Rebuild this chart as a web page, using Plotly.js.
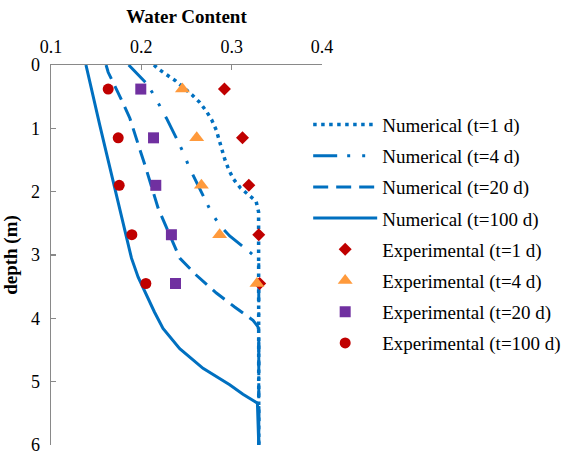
<!DOCTYPE html>
<html>
<head>
<meta charset="utf-8">
<script src="https://cdn.plot.ly/plotly-3.0.1.min.js"></script>
<style>html,body{margin:0;padding:0;background:#fff}#chart{width:564px;height:455px}</style>
</head>
<body>
<div id="chart"></div>
<script>
// Numerical curves: water content (x) vs depth (m)
const numT1X = [0.214, 0.2186, 0.2285, 0.238, 0.256, 0.2646, 0.272, 0.278, 0.283, 0.286, 0.289, 0.2926, 0.297, 0.302, 0.3096, 0.3184, 0.327, 0.3298, 0.330, 0.330];
const numT1D = [0, 0.06, 0.158, 0.25, 0.47, 0.59, 0.73, 0.87, 1.03, 1.18, 1.34, 1.5, 1.66, 1.8, 1.94, 2.05, 2.15, 2.32, 4.0, 6.0];

const numT4X = [0.186, 0.2057, 0.2138, 0.2215, 0.2278, 0.2407, 0.247, 0.2528, 0.259, 0.2713, 0.278, 0.2867, 0.2978, 0.3188, 0.330, 0.330];
const numT4D = [0, 0.29, 0.47, 0.67, 0.84, 1.21, 1.4, 1.61, 1.79, 2.17, 2.34, 2.53, 2.7, 2.94, 3.08, 6.0];

const numT20X = [0.161, 0.1633, 0.178, 0.1873, 0.198, 0.204, 0.2186, 0.2334, 0.2425, 0.261, 0.2831, 0.3033, 0.3236, 0.329, 0.330, 0.330];
const numT20D = [0, 0.115, 0.55, 0.84, 1.32, 1.58, 2.26, 2.76, 3.05, 3.32, 3.6, 3.82, 4.03, 4.13, 4.2, 6.0];

const numT100X = [0.1387, 0.1465, 0.154, 0.1615, 0.1689, 0.1799, 0.1891, 0.1965, 0.2057, 0.2145, 0.224, 0.2425, 0.2683, 0.2978, 0.3125, 0.3285, 0.330];
const numT100D = [0, 0.5, 0.95, 1.4, 1.84, 2.47, 3.05, 3.35, 3.63, 3.9, 4.16, 4.48, 4.79, 5.05, 5.2, 5.34, 6.0];

// Experimental points
const expDepth = [0.38, 1.15, 1.9, 2.68, 3.45];
const expT1 = [0.292, 0.312, 0.319, 0.330, 0.331];
const expT4 = [0.2455, 0.2613, 0.2665, 0.2867, 0.328];
const expT20 = [0.1994, 0.2135, 0.216, 0.2333, 0.2378];
const expT100 = [0.1633, 0.1744, 0.1755, 0.1895, 0.205];

const legendNames = [
  'Numerical (t=1 d)', 'Numerical (t=4 d)', 'Numerical (t=20 d)', 'Numerical (t=100 d)',
  'Experimental (t=1 d)', 'Experimental (t=4 d)', 'Experimental (t=20 d)', 'Experimental (t=100 d)'
];

const blue = '#0070C0';
const traces = [
  {x: numT1X, y: numT1D, mode: 'lines', name: legendNames[0], line: {color: blue, width: 3.5, dash: '3.5px,4.5px'}},
  {x: numT4X, y: numT4D, mode: 'lines', name: legendNames[1], line: {color: blue, width: 3, dash: '24px,10px,3px,12px,3px,12px'}},
  {x: numT20X, y: numT20D, mode: 'lines', name: legendNames[2], line: {color: blue, width: 3, dash: '15px,8px'}},
  {x: numT100X, y: numT100D, mode: 'lines', name: legendNames[3], line: {color: blue, width: 3}},
  {x: expT1, y: expDepth, mode: 'markers', name: legendNames[4], marker: {symbol: 'diamond', size: 10, color: '#C00000'}},
  {x: expT4, y: expDepth, mode: 'markers', name: legendNames[5], marker: {symbol: 'triangle-up', size: 13, color: '#FF9A3C'}},
  {x: expT20, y: expDepth, mode: 'markers', name: legendNames[6], marker: {symbol: 'square', size: 11, color: '#7030A0'}},
  {x: expT100, y: expDepth, mode: 'markers', name: legendNames[7], marker: {symbol: 'circle', size: 11, color: '#C00000'}}
];
traces.forEach((t, i) => { t.type = 'scatter'; t.legendgroup = 'g' + i; t.hoverinfo = 'skip'; });

const serif = '"Liberation Serif", "Times New Roman", serif';
const layout = {
  width: 564, height: 455,
  margin: {l: 51, r: 242, t: 65, b: 10, autoexpand: false},
  paper_bgcolor: '#fff', plot_bgcolor: '#fff',
  font: {family: serif, size: 18, color: '#000'},
  showlegend: true,
  legend: {x: 0.949, xanchor: 'left', y: 0.893, yanchor: 'top', tracegroupgap: 3.5,
           font: {family: serif, size: 19, color: '#000'}, itemwidth: 64, bgcolor: 'rgba(0,0,0,0)'},
  xaxis: {
    side: 'top', range: [0.1, 0.4], dtick: 0.1, tick0: 0.1, tickformat: '.1f',
    showline: true, linecolor: '#898989', linewidth: 1.5, mirror: false,
    ticks: 'inside', ticklen: 5, tickcolor: '#898989', tickwidth: 1.5,
    showgrid: false, zeroline: false, ticklabeloverflow: 'allow',
    tickfont: {family: serif, size: 18, color: '#000'},
    ticklabelstandoff: 3,
    title: {text: '<b>Water Content</b>', font: {family: serif, size: 19, color: '#000'}, standoff: 8}
  },
  yaxis: {
    range: [6, 0], dtick: 1,
    showline: true, linecolor: '#898989', linewidth: 1.5,
    ticks: 'inside', ticklen: 5, tickcolor: '#898989', tickwidth: 1.5,
    showgrid: false, zeroline: false, ticklabeloverflow: 'allow',
    tickfont: {family: serif, size: 18, color: '#000'},
    ticklabelstandoff: 6,
    title: {text: '<b>depth (m)</b>', font: {family: serif, size: 19, color: '#000'}, standoff: 8}
  }
};

Plotly.newPlot('chart', traces, layout, {displayModeBar: false, staticPlot: true});
</script>
</body>
</html>
